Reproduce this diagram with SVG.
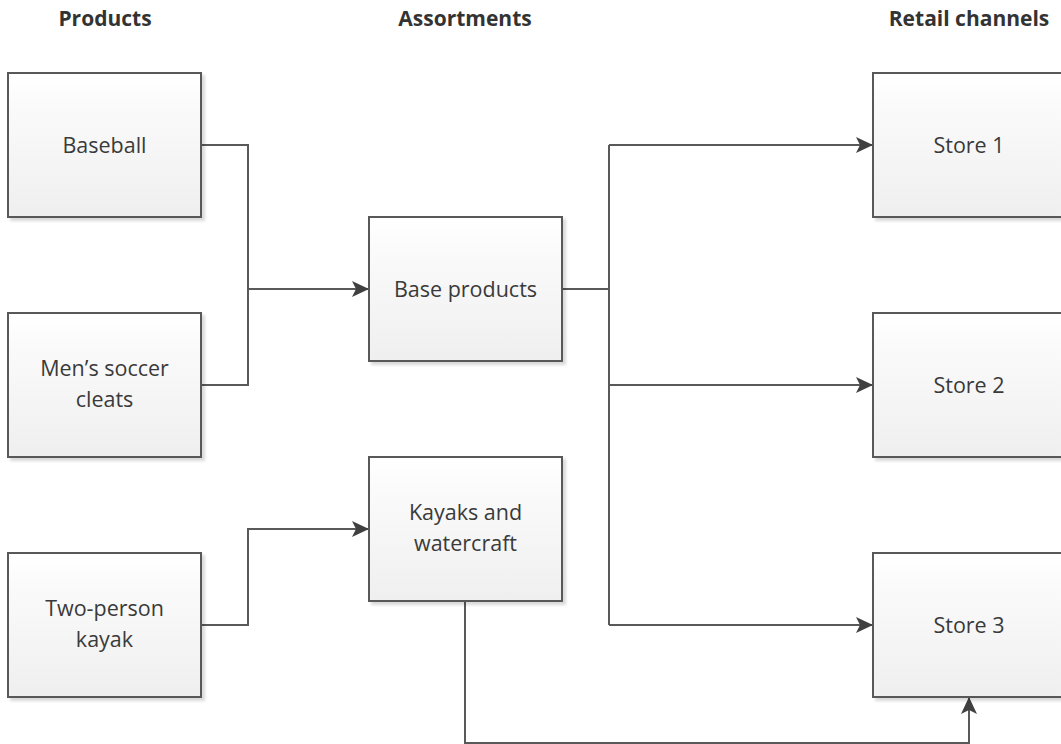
<svg xmlns="http://www.w3.org/2000/svg" width="1061" height="744" viewBox="0 0 1061 744">
  <style>
    .box { fill: url(#boxFill); stroke: #595959; stroke-width: 2; filter: url(#shadow); }
    .lbl { font-family: "Open Sans", "Noto Sans", sans-serif; font-size: 21.5px; fill: #3a3a3a; text-anchor: middle; }
    .hdr { font-family: "Open Sans", "Noto Sans", sans-serif; font-size: 21px; font-weight: bold; fill: #333333; text-anchor: middle; }
    .wire { fill: none; stroke: #595959; stroke-width: 2; }
    .arrow { fill: none; stroke: #595959; stroke-width: 2; marker-end: url(#head); }
  </style>
  <defs>
    <linearGradient id="boxFill" x1="0" y1="0" x2="0" y2="1">
      <stop offset="0" stop-color="#ffffff"/>
      <stop offset="0.2" stop-color="#fbfbfb"/>
      <stop offset="1" stop-color="#efefef"/>
    </linearGradient>
    <filter id="shadow" x="-10%" y="-10%" width="125%" height="125%">
      <feGaussianBlur in="SourceAlpha" stdDeviation="1.5"/>
      <feOffset dx="3" dy="3" result="b"/>
      <feComponentTransfer><feFuncA type="linear" slope="0.15"/></feComponentTransfer>
      <feMerge><feMergeNode/><feMergeNode in="SourceGraphic"/></feMerge>
    </filter>
    <marker id="head" viewBox="0 0 17 16" refX="17" refY="8" markerWidth="17" markerHeight="16" markerUnits="userSpaceOnUse" orient="auto">
      <path d="M0,0 L17,8 L0,16 L4,8 Z" fill="#404040"/>
    </marker>
  </defs>

  <rect width="1061" height="744" fill="#ffffff"/>

  <!-- column headers -->
  <text class="hdr" x="105" y="26">Products</text>
  <text class="hdr" x="465" y="26">Assortments</text>
  <text class="hdr" x="969" y="26">Retail channels</text>

  <!-- connectors -->
  <g id="connectors">
    <polyline class="wire" points="201,145 248,145 248,385 201,385"/>
    <line class="arrow" x1="248" y1="289" x2="369" y2="289"/>
    <polyline class="arrow" points="201,625 248,625 248,529 369,529"/>
    <polyline class="wire" points="562,289 609,289"/>
    <polyline class="wire" points="609,145 609,625"/>
    <line class="arrow" x1="609" y1="145" x2="873" y2="145"/>
    <line class="arrow" x1="609" y1="385" x2="873" y2="385"/>
    <line class="arrow" x1="609" y1="625" x2="873" y2="625"/>
    <polyline class="arrow" points="465,601 465,743 969,743 969,697"/>
  </g>

  <!-- products -->
  <g id="baseball">
    <rect class="box" x="8" y="73" width="193" height="144"/>
    <text class="lbl" x="104.5" y="153">Baseball</text>
  </g>
  <g id="soccer-cleats">
    <rect class="box" x="8" y="313" width="193" height="144"/>
    <text class="lbl" x="104.5" y="376">Men’s soccer</text>
    <text class="lbl" x="104.5" y="407">cleats</text>
  </g>
  <g id="two-person-kayak">
    <rect class="box" x="8" y="553" width="193" height="144"/>
    <text class="lbl" x="104.5" y="616">Two-person</text>
    <text class="lbl" x="104.5" y="647">kayak</text>
  </g>

  <!-- assortments -->
  <g id="base-products">
    <rect class="box" x="369" y="217" width="193" height="144"/>
    <text class="lbl" x="465.5" y="297">Base products</text>
  </g>
  <g id="kayaks-watercraft">
    <rect class="box" x="369" y="457" width="193" height="144"/>
    <text class="lbl" x="465.5" y="520">Kayaks and</text>
    <text class="lbl" x="465.5" y="551">watercraft</text>
  </g>

  <!-- retail channels -->
  <g id="store-1">
    <rect class="box" x="873" y="73" width="193" height="144"/>
    <text class="lbl" x="969" y="153">Store 1</text>
  </g>
  <g id="store-2">
    <rect class="box" x="873" y="313" width="193" height="144"/>
    <text class="lbl" x="969" y="393">Store 2</text>
  </g>
  <g id="store-3">
    <rect class="box" x="873" y="553" width="193" height="144"/>
    <text class="lbl" x="969" y="633">Store 3</text>
  </g>
</svg>
